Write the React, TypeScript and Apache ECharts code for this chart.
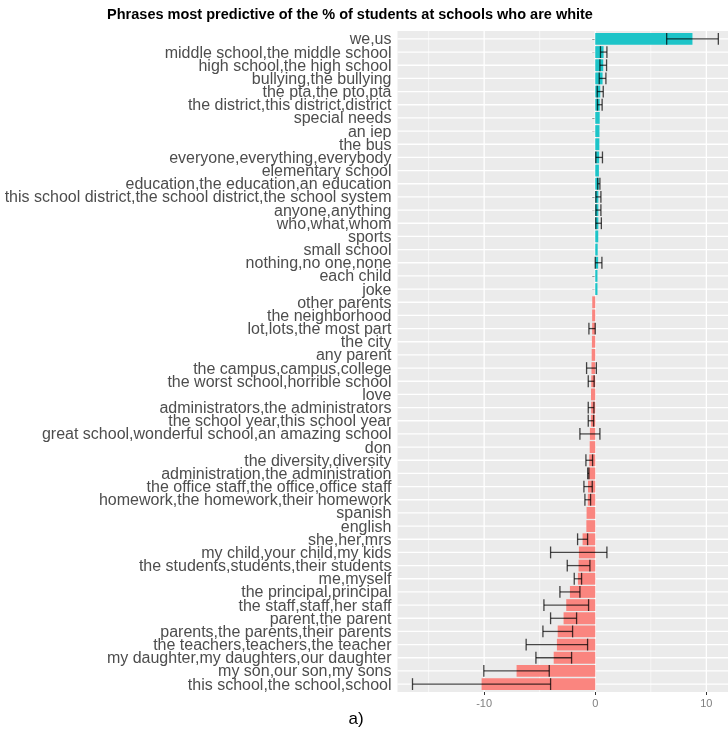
import React, { useEffect, useRef } from "react";
import * as echarts from "echarts";

const categories = [
  "we,us",
  "middle school,the middle school",
  "high school,the high school",
  "bullying,the bullying",
  "the pta,the pto,pta",
  "the district,this district,district",
  "special needs",
  "an iep",
  "the bus",
  "everyone,everything,everybody",
  "elementary school",
  "education,the education,an education",
  "this school district,the school district,the school system",
  "anyone,anything",
  "who,what,whom",
  "sports",
  "small school",
  "nothing,no one,none",
  "each child",
  "joke",
  "other parents",
  "the neighborhood",
  "lot,lots,the most part",
  "the city",
  "any parent",
  "the campus,campus,college",
  "the worst school,horrible school",
  "love",
  "administrators,the administrators",
  "the school year,this school year",
  "great school,wonderful school,an amazing school",
  "don",
  "the diversity,diversity",
  "administration,the administration",
  "the office staff,the office,office staff",
  "homework,the homework,their homework",
  "spanish",
  "english",
  "she,her,mrs",
  "my child,your child,my kids",
  "the students,students,their students",
  "me,myself",
  "the principal,principal",
  "the staff,staff,her staff",
  "parent,the parent",
  "parents,the parents,their parents",
  "the teachers,teachers,the teacher",
  "my daughter,my daughters,our daughter",
  "my son,our son,my sons",
  "this school,the school,school",
];

const values = [
  8.75, 0.75, 0.72, 0.66, 0.45, 0.4, 0.4, 0.38, 0.37, 0.35,
  0.33, 0.32, 0.28, 0.28, 0.28, 0.27, 0.22, 0.26, 0.2, 0.2,
  -0.27, -0.28, -0.28, -0.3, -0.32, -0.34, -0.36, -0.38, -0.37, -0.39,
  -0.48, -0.5, -0.54, -0.62, -0.65, -0.67, -0.78, -0.8, -1.14, -1.47,
  -1.5, -1.56, -2.28, -2.61, -2.85, -3.38, -3.45, -3.74, -7.08, -10.23,
];

const errLow: (number | null)[] = [
  6.43, 0.47, 0.42, 0.36, 0.18, 0.2, null, null, null, 0.05,
  null, 0.22, 0.06, 0.06, 0.05, null, null, 0.0, null, null,
  null, null, -0.57, null, null, -0.78, -0.63, null, -0.63, -0.63,
  -1.38, null, -0.84, -0.68, -1.02, -0.93, null, null, -1.59, -4.02,
  -2.52, -1.89, -3.18, -4.62, -4.02, -4.71, -6.22, -5.34, -10.03, -16.45,
];

const errHigh: (number | null)[] = [
  11.08, 1.05, 1.02, 0.96, 0.72, 0.62, null, null, null, 0.65,
  null, 0.42, 0.51, 0.51, 0.55, null, null, 0.6, null, null,
  null, null, 0.0, null, null, 0.1, -0.1, null, -0.12, -0.15,
  0.42, null, -0.24, -0.57, -0.27, -0.42, null, null, -0.69, 1.05,
  -0.48, -1.23, -1.38, -0.6, -1.68, -2.04, -0.69, -2.13, -4.14, -4.02,
];

const xTickLabels = [-10, 0, 10];
const majorGrid = [-10, 0, 10];
const minorGrid = [-15, -5, 5];

const TEAL = "#1DC4C8";
const SALMON = "#FA857F";
const FONT = '"Liberation Sans", Arial, Helvetica, sans-serif';

export default function App() {
  const ref = useRef<HTMLDivElement>(null);

  useEffect(() => {
    if (!ref.current) return;
    const chart = echarts.init(ref.current, null, { renderer: "svg" });

    const barData = values.map((v) => ({
      value: v,
      itemStyle: { color: v >= 0 ? TEAL : SALMON },
    }));

    const errData: number[][] = [];
    errLow.forEach((lo, i) => {
      const hi = errHigh[i];
      if (lo !== null && hi !== null) errData.push([lo, hi, i]);
    });

    const vData = [
      ...majorGrid.map((v) => [v, 1]),
      ...minorGrid.map((v) => [v, 0]),
    ];
    const hData = categories.map((_, i) => [0, i]);

    const panelTop = 31;
    const panelBottom = 692;
    const bandPx = (panelBottom - panelTop) / 50.2;
    const gridTop = panelTop + 0.1 * bandPx;
    const gridBottom = panelBottom - 0.1 * bandPx;
    const gridLeft = 397.5;

    chart.setOption({
      animation: false,
      graphic: [
        {
          type: "rect",
          z: -100,
          silent: true,
          shape: { x: gridLeft, y: panelTop, width: 728 - gridLeft, height: panelBottom - panelTop },
          style: { fill: "#EBEBEB" },
        },
        {
          type: "text",
          x: 350,
          y: 14,
          style: {
            text: "Phrases most predictive of the % of students at schools who are white",
            font: `bold 14.5px ${FONT}`,
            fill: "#000",
            align: "center",
            verticalAlign: "middle",
            textAlign: "center",
            textVerticalAlign: "middle",
          },
        },
        {
          type: "text",
          x: 356,
          y: 718,
          style: {
            text: "a)",
            font: `17px ${FONT}`,
            fill: "#000",
            align: "center",
            verticalAlign: "middle",
            textAlign: "center",
            textVerticalAlign: "middle",
          },
        },
      ],
      grid: {
        left: gridLeft,
        right: 0,
        top: gridTop,
        bottom: 738 - gridBottom,
        containLabel: false,
        outerBoundsMode: "none",
      },
      xAxis: {
        type: "value",
        min: -17.8,
        max: 11.95,
        offset: panelBottom - gridBottom,
        axisLine: { show: false },
        splitLine: { show: false },
        axisTick: {
          show: true,
          length: 3,
          customValues: xTickLabels,
          lineStyle: { color: "#333333", width: 1 },
        },
        axisLabel: {
          customValues: xTickLabels,
          color: "#7F7F7F",
          fontSize: 11,
          fontFamily: FONT,
          margin: 5,
        },
      },
      yAxis: {
        type: "category",
        data: categories,
        inverse: true,
        axisLine: { show: false },
        splitLine: { show: false },
        axisTick: {
          show: true,
          length: 3,
          alignWithLabel: true,
          lineStyle: { color: "#333333", width: 1 },
        },
        axisLabel: {
          color: "#4D4D4D",
          fontSize: 16,
          lineHeight: 12,
          fontFamily: FONT,
          margin: 6,
          interval: 0,
        },
      },
      series: [
        {
          type: "custom",
          z: 1,
          silent: true,
          data: vData,
          encode: { x: 0 },
          renderItem: (params: any, api: any) => {
            const v = api.value(0);
            const major = api.value(1) === 1;
            const x = api.coord([v, 0])[0];
            return {
              type: "line",
              shape: { x1: x, y1: panelTop, x2: x, y2: panelBottom },
              style: { stroke: "#FFFFFF", lineWidth: major ? 1.3 : 0.6 },
            };
          },
        },
        {
          type: "custom",
          z: 1,
          silent: true,
          data: hData,
          encode: { x: 0, y: 1 },
          renderItem: (params: any, api: any) => {
            const cs = params.coordSys;
            const y = api.coord([0, api.value(1)])[1];
            return {
              type: "line",
              shape: { x1: cs.x, y1: y, x2: cs.x + cs.width, y2: y },
              style: { stroke: "#FFFFFF", lineWidth: 1.3 },
            };
          },
        },
        {
          type: "bar",
          z: 2,
          data: barData,
          barWidth: "90%",
        },
        {
          type: "custom",
          z: 3,
          silent: true,
          data: errData,
          encode: { x: [0, 1], y: 2 },
          renderItem: (params: any, api: any) => {
            const lo = api.value(0);
            const hi = api.value(1);
            const idx = api.value(2);
            const p1 = api.coord([lo, idx]);
            const p2 = api.coord([hi, idx]);
            const h = (api.size([0, 1])[1] * 0.9) / 2;
            const st = { stroke: "rgba(0,0,0,0.72)", lineWidth: 1.3 };
            return {
              type: "group",
              children: [
                { type: "line", shape: { x1: p1[0], y1: p1[1], x2: p2[0], y2: p2[1] }, style: st },
                { type: "line", shape: { x1: p1[0], y1: p1[1] - h, x2: p1[0], y2: p1[1] + h }, style: st },
                { type: "line", shape: { x1: p2[0], y1: p2[1] - h, x2: p2[0], y2: p2[1] + h }, style: st },
              ],
            };
          },
        },
      ],
    });

    return () => chart.dispose();
  }, []);

  return (
    <div
      ref={ref}
      style={{ position: "fixed", left: 0, top: 0, width: 728, height: 738 }}
    />
  );
}
